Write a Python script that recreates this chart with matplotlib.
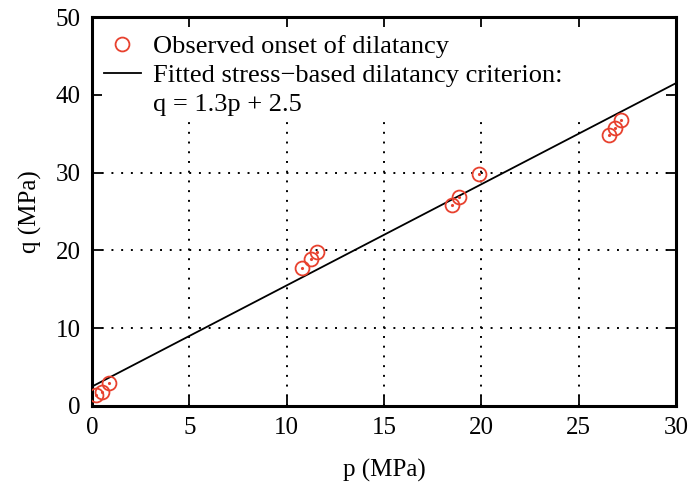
import matplotlib.pyplot as plt
from matplotlib.patches import Rectangle
import numpy as np

plt.rcParams['font.family'] = ['Liberation Serif', 'DejaVu Serif']

# observed onset of dilatancy
p_obs = [0.2, 0.5, 0.87, 10.8, 11.25, 11.55, 18.5, 18.85, 19.9, 26.55, 26.86, 27.2]
q_obs = [1.4, 1.8, 3.0, 17.7, 18.9, 19.8, 25.8, 26.9, 29.8, 34.8, 35.7, 36.8]

# fitted criterion q = 1.3p + 2.5
slope = 1.3
intercept = 2.5
p_fit = np.array([0, 30])
q_fit = slope * p_fit + intercept

x_ticks = [0, 5, 10, 15, 20, 25, 30]
y_ticks = [0, 10, 20, 30, 40, 50]

fig = plt.figure(figsize=(6.96, 4.97), dpi=100)
ax = fig.add_axes([92/696, 1 - 406/497, (676-92)/696, (406-17)/497])
ax.set_axisbelow(False)

# dotted grid, hidden behind the key area at the top
grid_style = dict(color='black', linestyle=(0, (1, 4)), linewidth=1.4, zorder=0.5)
ax.vlines(x_ticks, 0, 50, **grid_style)
ax.hlines(y_ticks, 0, 30, **grid_style)
ax.add_patch(Rectangle((0, 0.735), 1, 0.265, transform=ax.transAxes,
                       facecolor='white', edgecolor='none', zorder=0.8))

red = '#e8412e'
ax.plot(p_obs, q_obs, 'o', mfc='none', mec=red, ms=10, mew=1.3,
        label='Observed onset of dilatancy', zorder=3)
ax.plot(p_obs, q_obs, '.', color=red, ms=2.5, zorder=3)
ax.plot(p_fit, q_fit, '-', color='black', lw=1.3,
        label='Fitted stress\u2212based dilatancy criterion:', zorder=2)
ax.plot([], [], ' ', label='q = 1.3p + 2.5')

ax.set_xlim(0, 30)
ax.set_ylim(0, 50)
ax.set_xticks(x_ticks)
ax.set_yticks(y_ticks)
ax.tick_params(direction='in', top=True, right=True, length=7, width=1.3,
               labelsize=18, pad=8)
for s in ax.spines.values():
    s.set_linewidth(2.2)

ax.set_xlabel('p (MPa)', fontsize=18, labelpad=14)
ax.set_ylabel('q (MPa)', fontsize=18, labelpad=10)

leg = ax.legend(loc='upper left', bbox_to_anchor=(0.0, 0.986), frameon=False,
                fontsize=19, handlelength=1.4, borderaxespad=0.0, borderpad=0.45,
                labelspacing=0.22, handletextpad=0.45)

fig.savefig('out.png', dpi=100)
